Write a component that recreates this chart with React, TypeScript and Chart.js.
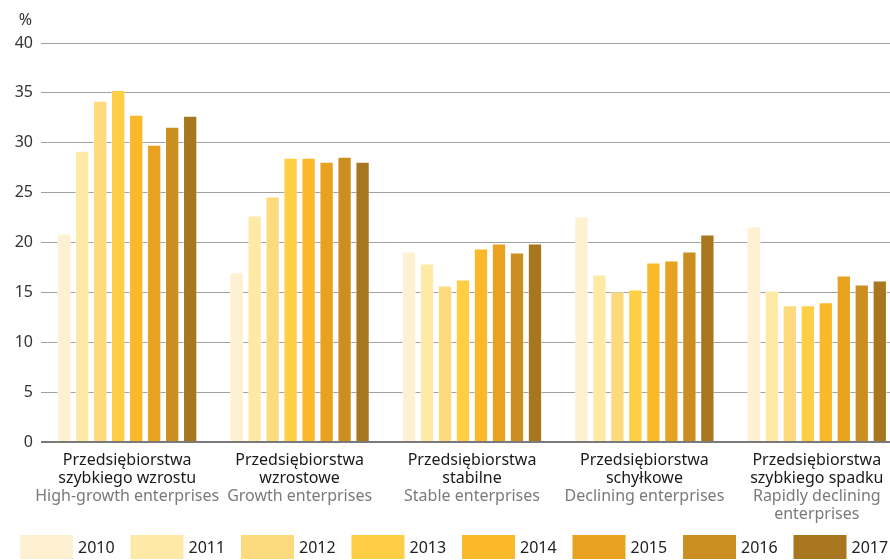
import React, { useEffect, useRef } from "react";
import { Chart, registerables } from "chart.js";

Chart.register(...registerables);

const categoriesPL: string[][] = [
  ["Przedsiębiorstwa", "szybkiego wzrostu"],
  ["Przedsiębiorstwa", "wzrostowe"],
  ["Przedsiębiorstwa", "stabilne"],
  ["Przedsiębiorstwa", "schyłkowe"],
  ["Przedsiębiorstwa", "szybkiego spadku"],
];
const categoriesEN: (string | string[])[] = [
  "High-growth enterprises",
  "Growth enterprises",
  "Stable enterprises",
  "Declining enterprises",
  ["Rapidly declining", "enterprises"],
];
const years = ["2010", "2011", "2012", "2013", "2014", "2015", "2016", "2017"];

const v2010 = [20.9, 17.0, 19.1, 22.6, 21.6];
const v2011 = [29.2, 22.7, 17.9, 16.8, 15.2];
const v2012 = [34.2, 24.6, 15.7, 15.1, 13.7];
const v2013 = [35.3, 28.5, 16.3, 15.3, 13.7];
const v2014 = [32.8, 28.5, 19.4, 18.0, 14.0];
const v2015 = [29.8, 28.1, 19.9, 18.2, 16.7];
const v2016 = [31.6, 28.6, 19.0, 19.1, 15.8];
const v2017 = [32.7, 28.1, 19.9, 20.8, 16.2];
const seriesValues = [v2010, v2011, v2012, v2013, v2014, v2015, v2016, v2017];

const colors = [
  "#FEF1D2",
  "#FEE9A6",
  "#FDDA7D",
  "#FECE45",
  "#FBB828",
  "#E8A21F",
  "#CA8F20",
  "#A8761F",
];

const yTicks = [0, 5, 10, 15, 20, 25, 30, 35, 40];

const FONT = "'Noto Sans', 'DejaVu Sans', sans-serif";

const customLegend = {
  id: "customLegend",
  afterDraw(chart: any) {
    const ctx = chart.ctx;
    ctx.save();
    ctx.font = `16px ${FONT}`;
    ctx.fillStyle = "#333";
    ctx.textAlign = "right";
    ctx.textBaseline = "middle";
    ctx.fillText("%", chart.chartArea.left - 9, 20);
    const startX = 20;
    const stride = 110.5;
    const top = 535;
    const w = 53;
    const h = 24;
    chart.data.datasets.forEach((ds: any, i: number) => {
      const x = startX + stride * i;
      ctx.fillStyle = ds.backgroundColor;
      ctx.fillRect(x, top, w, h);
      ctx.fillStyle = "#222";
      ctx.textAlign = "left";
      ctx.textBaseline = "middle";
      ctx.font = `16px ${FONT}`;
      ctx.fillText(ds.label, x + w + 5, top + h / 2 + 1);
    });
    ctx.restore();
  },
};

export default function App() {
  const ref = useRef<HTMLCanvasElement | null>(null);

  useEffect(() => {
    if (!ref.current) return;
    const chart = new Chart(ref.current, {
      type: "bar",
      data: {
        labels: categoriesPL,
        datasets: years.map((y, i) => ({
          label: y,
          data: seriesValues[i],
          backgroundColor: colors[i],
          borderColor: "rgba(255,255,255,0.55)",
          borderWidth: 1,
          barPercentage: 0.795,
          categoryPercentage: 0.835,
          xAxisID: "x",
        })),
      },
      options: {
        responsive: false,
        animation: false,
        layout: { padding: { top: 43, bottom: 32, left: 0, right: 0 } },
        plugins: {
          legend: { display: false },
          tooltip: { enabled: false },
          title: { display: false },
        },
        scales: {
          x: {
            type: "category",
            position: "bottom",
            weight: 0,
            grid: { display: false, drawTicks: false },
            border: { display: false },
            ticks: {
              color: "#1a1a1a",
              font: { family: FONT, size: 16, lineHeight: 1.1 },
              padding: 10,
              maxRotation: 0,
              autoSkip: false,
            },
            afterFit(scale: any) {
              scale.height = 46;
            },
          },
          x2: {
            type: "category",
            position: "bottom",
            weight: 1,
            labels: categoriesEN as any,
            offset: true,
            grid: { display: false, drawTicks: false },
            border: { display: false },
            ticks: {
              color: "#7a7a7a",
              font: { family: FONT, size: 16, lineHeight: 1.1 },
              padding: 0,
              maxRotation: 0,
              autoSkip: false,
            },
            afterFit(scale: any) {
              scale.height = 40;
            },
          },
          y: {
            min: 0,
            max: 40,
            afterBuildTicks(scale: any) {
              scale.ticks = yTicks.map((v) => ({ value: v }));
            },
            grid: {
              drawTicks: false,
              color: (c: any) => (c.tick && c.tick.value === 0 ? "#7a7a7a" : "#a0a0a0"),
              lineWidth: (c: any) => (c.tick && c.tick.value === 0 ? 2 : 1),
            },
            border: { display: false },
            ticks: {
              color: "#333",
              font: { family: FONT, size: 16 },
              padding: 8,
            },
            afterFit(scale: any) {
              scale.width = 41;
            },
          },
        },
      },
      plugins: [customLegend],
    });
    return () => chart.destroy();
  }, []);

  return (
    <div
      style={{
        position: "fixed",
        left: 0,
        top: 0,
        width: 890,
        height: 560,
        overflow: "hidden",
        background: "#fff",
      }}
    >
      <canvas ref={ref} width={903} height={560} style={{ width: 903, height: 560, display: "block" }} />
    </div>
  );
}
